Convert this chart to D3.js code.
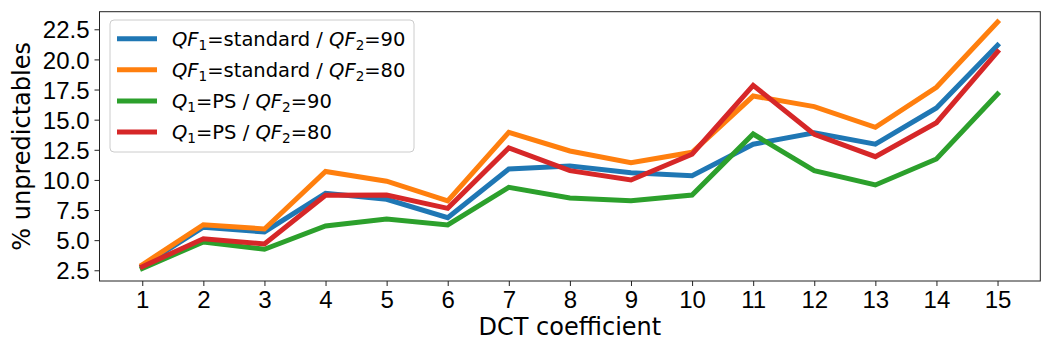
<!DOCTYPE html>
<html lang="en">
<head>
  <meta charset="UTF-8">
  <title>Unpredictables per DCT coefficient</title>
  <script src="https://d3js.org/d3.v7.min.js"></script>
  <style>
    body { margin: 0; background: #fff; }
    svg { display: block; font-family: "DejaVu Sans", sans-serif; }
    .tick-label { font-size: 24px; fill: #000; }
    .axis-label { font-size: 24px; fill: #000; }
    .legend-text { font-size: 19.5px; fill: #000; }
  </style>
</head>
<body>
  <script>
    // data
    const coefficients = [1, 2, 3, 4, 5, 6, 7, 8, 9, 10, 11, 12, 13, 14, 15];
    const yTicks = [2.5, 5.0, 7.5, 10.0, 12.5, 15.0, 17.5, 20.0, 22.5];
    const stdQF90 = [2.86, 6.07, 5.68, 8.89, 8.39, 6.87, 10.91, 11.16, 10.6, 10.35, 12.96, 13.92, 12.96, 15.97, 21.17];
    const stdQF80 = [2.96, 6.28, 5.93, 10.7, 9.89, 8.25, 13.95, 12.4, 11.43, 12.29, 16.96, 16.08, 14.37, 17.69, 23.1];
    const psQF90  = [2.66, 4.85, 4.24, 6.18, 6.76, 6.26, 9.39, 8.5, 8.28, 8.75, 13.81, 10.77, 9.58, 11.74, 17.13];
    const psQF80  = [2.8, 5.12, 4.68, 8.72, 8.75, 7.64, 12.65, 10.77, 9.99, 12.13, 17.85, 13.79, 11.93, 14.75, 20.64];

    const series = [
      { values: stdQF90, color: "#1f77b4", label: [["Q", "i"], ["F", "i"], ["1", "sub"], ["=standard / ", ""], ["Q", "i"], ["F", "i"], ["2", "sub"], ["=90", ""]] },
      { values: stdQF80, color: "#ff7f0e", label: [["Q", "i"], ["F", "i"], ["1", "sub"], ["=standard / ", ""], ["Q", "i"], ["F", "i"], ["2", "sub"], ["=80", ""]] },
      { values: psQF90,  color: "#2ca02c", label: [["Q", "i"], ["1", "sub"], ["=PS / ", ""], ["Q", "i"], ["F", "i"], ["2", "sub"], ["=90", ""]] },
      { values: psQF80,  color: "#d62728", label: [["Q", "i"], ["1", "sub"], ["=PS / ", ""], ["Q", "i"], ["F", "i"], ["2", "sub"], ["=80", ""]] }
    ];

    const W = 1050, H = 350;
    const plot = { left: 99.5, right: 1040.3, top: 11.7, bottom: 281 };

    const svg = d3.select("body").append("svg")
      .attr("width", W).attr("height", H);

    const x = d3.scaleLinear().domain([0.3, 15.7]).range([plot.left, plot.right]);
    const y = d3.scaleLinear().domain([1.61, 23.96]).range([plot.bottom, plot.top]);

    // axes
    const xAxis = svg.append("g")
      .attr("transform", `translate(0,${plot.bottom})`)
      .call(d3.axisBottom(x).tickValues(coefficients).tickSize(5).tickPadding(4).tickFormat(d3.format("d")));
    xAxis.select(".domain").remove();
    xAxis.selectAll(".tick line").attr("stroke", "#222").attr("stroke-width", 1);
    xAxis.selectAll(".tick text").attr("class", "tick-label").attr("font-family", null).attr("font-size", null)
      .attr("dy", "0.76em");

    const yAxis = svg.append("g")
      .attr("transform", `translate(${plot.left},0)`)
      .call(d3.axisLeft(y).tickValues(yTicks).tickSize(5).tickPadding(5).tickFormat(d3.format(".1f")));
    yAxis.select(".domain").remove();
    yAxis.selectAll(".tick line").attr("stroke", "#222").attr("stroke-width", 1);
    yAxis.selectAll(".tick text").attr("class", "tick-label").attr("font-family", null).attr("font-size", null)
      .attr("dy", "0.36em");

    // lines
    const line = d3.line()
      .x((d, i) => x(coefficients[i]))
      .y(d => y(d));

    svg.append("g")
      .selectAll("path")
      .data(series)
      .join("path")
      .attr("d", d => line(d.values))
      .attr("fill", "none")
      .attr("stroke", d => d.color)
      .attr("stroke-width", 5)
      .attr("stroke-linejoin", "miter")
      .attr("stroke-linecap", "square");

    // frame
    svg.append("rect")
      .attr("x", plot.left).attr("y", plot.top)
      .attr("width", plot.right - plot.left).attr("height", plot.bottom - plot.top)
      .attr("fill", "none").attr("stroke", "#222").attr("stroke-width", 1);

    // axis titles
    svg.append("text")
      .attr("class", "axis-label")
      .attr("x", (plot.left + plot.right) / 2)
      .attr("y", 335)
      .attr("text-anchor", "middle")
      .text("DCT coefficient");

    svg.append("text")
      .attr("class", "axis-label")
      .attr("transform", `translate(30,${(plot.top + plot.bottom) / 2}) rotate(-90)`)
      .attr("text-anchor", "middle")
      .text("% unpredictables");

    // legend
    const legend = svg.append("g");
    legend.append("rect")
      .attr("x", 110).attr("y", 20).attr("width", 304).attr("height", 132)
      .attr("rx", 4)
      .attr("fill", "#fff").attr("fill-opacity", 0.8)
      .attr("stroke", "#ccc").attr("stroke-width", 1);

    series.forEach((s, i) => {
      const ly = 38.7 + i * 31.1;
      legend.append("line")
        .attr("x1", 117).attr("x2", 157)
        .attr("y1", ly).attr("y2", ly)
        .attr("stroke", s.color).attr("stroke-width", 5);
      const t = legend.append("text")
        .attr("class", "legend-text")
        .attr("x", 172).attr("y", ly + 7);
      s.label.forEach(([str, kind]) => {
        const span = t.append("tspan").text(str);
        if (kind === "i") span.attr("font-style", "italic");
        if (kind === "sub") span.attr("font-size", "13.6px").attr("dy", 4);
      });
      // undo the subscript shifts
      t.selectAll("tspan").each(function (d, k, nodes) {
        const prev = nodes[k - 1];
        if (prev && d3.select(prev).attr("dy") === "4") d3.select(this).attr("dy", -4);
      });
    });
  </script>
</body>
</html>
